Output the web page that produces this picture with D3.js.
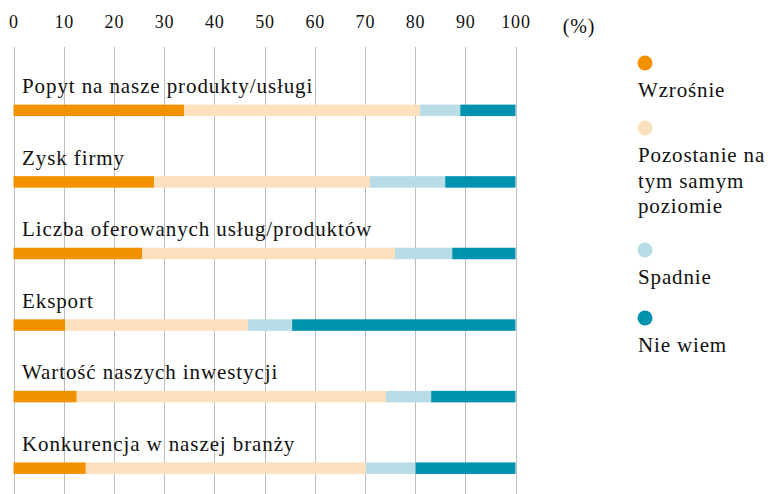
<!DOCTYPE html>
<html>
<head>
<meta charset="utf-8">
<script src="https://cdn.jsdelivr.net/npm/d3@7"></script>
<style>
  body { margin: 0; background: #fff; }
  text { font-family: "Liberation Serif", "DejaVu Serif", serif; fill: #111; }
</style>
</head>
<body>
<div id="chart"></div>
<script>

// categories (top to bottom)
var categories = [
  "Popyt na nasze produkty/usługi",
  "Zysk firmy",
  "Liczba oferowanych usług/produktów",
  "Eksport",
  "Wartość naszych inwestycji",
  "Konkurencja w naszej branży"
];

// series values, % per category
var wzrosnie   = [34, 28, 25.6, 10.3, 12.6, 14.4];
var pozostanie = [47, 43, 50.4, 36.4, 61.6, 55.8];
var spadnie    = [8, 15, 11.4, 8.8, 9, 9.9];
var niewiem    = [11, 14, 12.6, 44.5, 16.8, 19.9];

var seriesNames = ["Wzrośnie", "Pozostanie na tym samym poziomie", "Spadnie", "Nie wiem"];
var seriesColors = ["#f39200", "#fde0be", "#b8dde6", "#0092ae"];

var tickValues = [0, 10, 20, 30, 40, 50, 60, 70, 80, 90, 100];

var svgWidth = 770;
var svgHeight = 494;

var svg = d3.select("#chart")
  .append("svg")
  .attr("width", svgWidth)
  .attr("height", svgHeight);

var xScale = d3.scaleLinear()
  .domain([0, 100])
  .range([13.5, 515.5]);

var yScale = d3.scaleBand()
  .domain(categories)
  .range([68.6, 498])
  .paddingInner(0)
  .paddingOuter(0);

// gridlines
svg.append("g")
  .selectAll("line")
  .data(tickValues)
  .enter()
  .append("line")
  .attr("x1", d => Math.round(xScale(d)) + 0.5)
  .attr("x2", d => Math.round(xScale(d)) + 0.5)
  .attr("y1", 47)
  .attr("y2", svgHeight)
  .attr("stroke", "#bdbdbd")
  .attr("stroke-width", 1);

// top axis labels
var topAxis = d3.axisTop(xScale)
  .tickValues(tickValues)
  .tickSize(0)
  .tickPadding(0);

var axisG = svg.append("g")
  .attr("transform", "translate(0, 28)")
  .call(topAxis);
axisG.select(".domain").remove();
axisG.selectAll("text")
  .attr("font-size", 18)
  .attr("font-family", "Liberation Serif, serif")
  .attr("letter-spacing", 0.8)
  .attr("fill", "#111")
  .attr("dy", 0);

svg.append("text")
  .attr("x", 579)
  .attr("y", 33)
  .attr("text-anchor", "middle")
  .attr("font-size", 20)
  .attr("letter-spacing", 0.8)
  .text("(%)");

// stack
var rows = categories.map((c, i) => ({
  cat: c, s0: wzrosnie[i], s1: pozostanie[i], s2: spadnie[i], s3: niewiem[i]
}));
var stack = d3.stack().keys(["s0", "s1", "s2", "s3"]);
var stacked = stack(rows);

var barH = 11.5;

var rowGroup = svg.append("g");

rowGroup.selectAll(".cat-label")
  .data(categories)
  .enter()
  .append("text")
  .attr("class", "cat-label")
  .attr("x", 22)
  .attr("y", d => yScale(d) + 24.5)
  .attr("font-size", 21)
  .attr("letter-spacing", 0.9)
  .text(d => d);

rowGroup.selectAll(".series")
  .data(stacked)
  .enter()
  .append("g")
  .attr("fill", (d, i) => seriesColors[i])
  .selectAll("rect")
  .data(d => d)
  .enter()
  .append("rect")
  .attr("x", d => xScale(d[0]))
  .attr("width", d => xScale(d[1]) - xScale(d[0]))
  .attr("y", d => yScale(d.data.cat) + 36)
  .attr("height", barH);

// legend
var legendLines = [["Wzrośnie"], ["Pozostanie na", "tym samym", "poziomie"], ["Spadnie"], ["Nie wiem"]];
var legendDotY = [63, 128, 250, 318];

var legend = svg.append("g");
legendLines.forEach(function(lines, i) {
  legend.append("circle")
    .attr("cx", 645)
    .attr("cy", legendDotY[i])
    .attr("r", 7.5)
    .attr("fill", seriesColors[i]);
  lines.forEach(function(line, j) {
    legend.append("text")
      .attr("x", 638)
      .attr("y", legendDotY[i] + 34 + j * 25.5)
      .attr("font-size", 21)
      .attr("letter-spacing", 0.85)
      .text(line);
  });
});

</script>
</body>
</html>
